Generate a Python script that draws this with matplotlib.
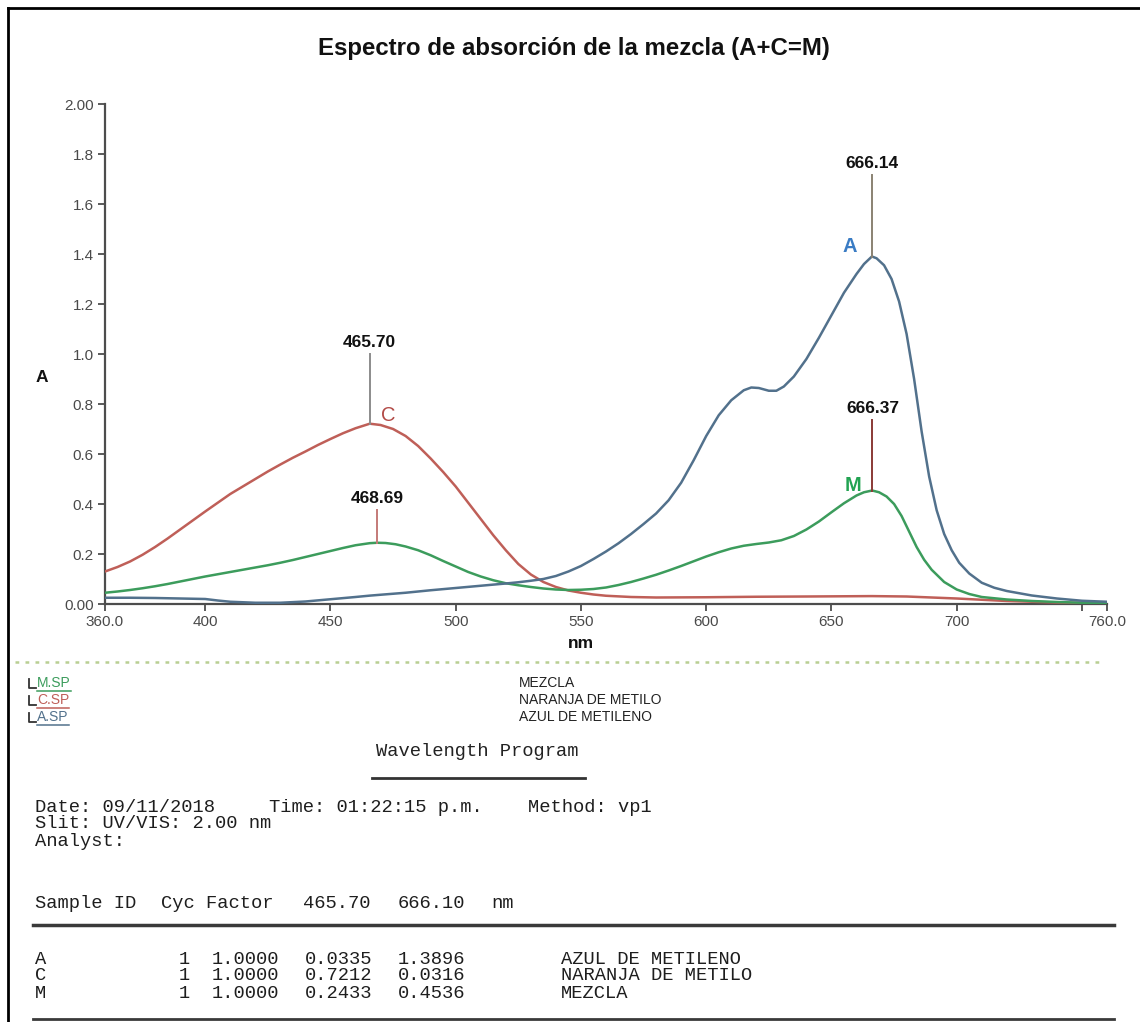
import numpy as np
import matplotlib
matplotlib.use("Agg")
import matplotlib.pyplot as plt
from matplotlib import font_manager
from matplotlib.lines import Line2D
from matplotlib.transforms import IdentityTransform

# ---------------- spectra (nm, absorbance) ----------------
wl_C = [360, 365, 370, 375, 380, 385, 390, 395, 400, 405, 410, 415, 420, 425, 430,
        435, 440, 445, 450, 455, 460, 465.70, 470, 475, 480, 485, 490, 495, 500,
        505, 510, 515, 520, 525, 530, 535, 540, 545, 550, 555, 560, 570, 580, 600,
        620, 640, 666.10, 680, 700, 720, 740, 760]
abs_C = [0.13, 0.148, 0.17, 0.197, 0.228, 0.262, 0.298, 0.334, 0.37, 0.405, 0.44,
         0.47, 0.50, 0.53, 0.558, 0.585, 0.61, 0.636, 0.66, 0.683, 0.703, 0.7212,
         0.716, 0.70, 0.672, 0.632, 0.582, 0.528, 0.47, 0.405, 0.34, 0.275, 0.215,
         0.16, 0.118, 0.088, 0.068, 0.054, 0.045, 0.038, 0.033, 0.028, 0.026, 0.027,
         0.029, 0.03, 0.0316, 0.03, 0.022, 0.012, 0.006, 0.003]

wl_A = [360, 370, 380, 390, 400, 405, 410, 420, 430, 440, 450, 460, 465.70, 470, 480,
        490, 500, 510, 520, 525, 530, 535, 540, 545, 550, 555, 560, 565, 570, 575,
        580, 585, 590, 595, 600, 605, 610, 615, 618, 621, 625, 628, 631, 635, 640,
        645, 650, 655, 660, 663, 666.10, 666.14, 668, 671, 674, 677, 680, 683, 686,
        689, 692, 695, 698, 701, 705, 710, 715, 720, 730, 740, 750, 760]
abs_A = [0.025, 0.025, 0.024, 0.022, 0.02, 0.014, 0.009, 0.005, 0.005, 0.01, 0.019,
         0.028, 0.0335, 0.037, 0.045, 0.055, 0.064, 0.073, 0.082, 0.087, 0.093, 0.1,
         0.112, 0.13, 0.152, 0.18, 0.21, 0.243, 0.28, 0.32, 0.362, 0.415, 0.485,
         0.575, 0.672, 0.755, 0.815, 0.855, 0.866, 0.864, 0.853, 0.853, 0.87, 0.91,
         0.98, 1.065, 1.155, 1.245, 1.32, 1.36, 1.3896, 1.39, 1.383, 1.355, 1.30,
         1.21, 1.08, 0.90, 0.69, 0.51, 0.375, 0.28, 0.215, 0.165, 0.122, 0.085,
         0.065, 0.052, 0.034, 0.022, 0.013, 0.009]

wl_M = [360, 365, 370, 375, 380, 385, 390, 395, 400, 405, 410, 415, 420, 425, 430,
        435, 440, 445, 450, 455, 460, 465.70, 468.69, 472, 476, 480, 485, 490, 495,
        500, 505, 510, 515, 520, 525, 530, 535, 540, 545, 550, 555, 560, 565, 570,
        575, 580, 585, 590, 595, 600, 605, 610, 615, 620, 625, 630, 635, 640, 645,
        650, 655, 660, 663, 666.10, 666.37, 669, 672, 675, 678, 681, 684, 687, 690,
        695, 700, 705, 710, 720, 730, 740, 750, 760]
abs_M = [0.045, 0.05, 0.056, 0.063, 0.071, 0.08, 0.09, 0.10, 0.11, 0.119, 0.128,
         0.137, 0.146, 0.155, 0.165, 0.176, 0.188, 0.20, 0.212, 0.224, 0.235,
         0.2433, 0.245, 0.244, 0.239, 0.23, 0.215, 0.195, 0.172, 0.15, 0.128, 0.11,
         0.095, 0.083, 0.075, 0.068, 0.062, 0.058, 0.056, 0.057, 0.06, 0.066, 0.076,
         0.088, 0.102, 0.117, 0.134, 0.152, 0.171, 0.19, 0.207, 0.222, 0.233, 0.24,
         0.246, 0.255, 0.272, 0.298, 0.33, 0.367, 0.403, 0.434, 0.447, 0.4536,
         0.4537, 0.447, 0.43, 0.40, 0.352, 0.29, 0.228, 0.177, 0.137, 0.088, 0.058,
         0.04, 0.028, 0.018, 0.012, 0.008, 0.005, 0.004]

# peak markers: (series, wavelength, text)
peak_series = ["C", "M", "A", "M"]
peak_nm = [465.70, 468.69, 666.14, 666.37]
peak_text = ["465.70", "468.69", "666.14", "666.37"]

# axis ticks
x_ticks = [360, 400, 450, 500, 550, 600, 650, 700, 750, 760]
x_ticklabels = ["360.0", "400", "450", "500", "550", "600", "650", "700", "", "760.0"]
y_ticks = [0.0, 0.2, 0.4, 0.6, 0.8, 1.0, 1.2, 1.4, 1.6, 1.8, 2.0]
y_ticklabels = ["0.00", "0.2", "0.4", "0.6", "0.8", "1.0", "1.2", "1.4", "1.6", "1.8", "2.00"]

# legend files and report table
files = ["M.SP", "C.SP", "A.SP"]
file_desc = ["MEZCLA", "NARANJA DE METILO", "AZUL DE METILENO"]
sample_ids = ["A", "C", "M"]
cyc = ["1", "1", "1"]
factor = ["1.0000", "1.0000", "1.0000"]
abs_465 = [0.0335, 0.7212, 0.2433]
abs_666 = [1.3896, 0.0316, 0.4536]
sample_names = ["AZUL DE METILENO", "NARANJA DE METILO", "MEZCLA"]

# ---------------- styling ----------------
def pick(names):
    for n in names:
        try:
            font_manager.findfont(font_manager.FontProperties(family=n),
                                  fallback_to_default=False)
            return n
        except Exception:
            continue
    return "DejaVu Sans"

SANS = pick(["Liberation Sans", "Arial", "DejaVu Sans"])
NARROW = pick(["Liberation Sans Narrow", "Liberation Sans"])
MONO = pick(["Liberation Mono", "DejaVu Sans Mono"])

col = {"C": "#bf5f58", "M": "#3c9c5c", "A": "#52718c"}
line_col = {"465.70": "#8c8c8c", "468.69": "#c47a78",
            "666.14": "#8a8272", "666.37": "#8a3a36"}
data = {"C": (wl_C, abs_C), "M": (wl_M, abs_M), "A": (wl_A, abs_A)}

W, H = 1140, 1022
fig = plt.figure(figsize=(W / 100, H / 100), dpi=100)
fig.patch.set_facecolor("white")


def fx(x):
    return x / W


def fy(y):
    return 1 - y / H


ax = fig.add_axes([fx(105), fy(604), (1107 - 105) / W, 500 / H])
ax.set_xlim(360, 760)
ax.set_ylim(0, 2.0)
for s in ["top", "right"]:
    ax.spines[s].set_visible(False)
for s in ["left", "bottom"]:
    ax.spines[s].set_color("#4d4d4d")
    ax.spines[s].set_linewidth(1.6)

ax.set_xticks(x_ticks)
ax.set_xticklabels(x_ticklabels)
ax.set_yticks(y_ticks)
ax.set_yticklabels(y_ticklabels)
ax.tick_params(axis="both", direction="out", length=5, width=1.3, color="#4d4d4d",
               labelcolor="#4a4a4a", labelsize=11)
ax.tick_params(axis="x", pad=3)
ax.tick_params(axis="y", pad=3)
for lab in ax.get_xticklabels() + ax.get_yticklabels():
    lab.set_family(NARROW)

# curves
for key in ["C", "M", "A"]:
    wl, ab = data[key]
    ax.plot(wl, ab, color=col[key], lw=1.8, solid_joinstyle="round",
            solid_capstyle="round", zorder=3)

# peak markers
line_top = {"465.70": 1.0, "468.69": 0.376, "666.14": 1.716, "666.37": 0.736}
for key, nm, txt in zip(peak_series, peak_nm, peak_text):
    wl, ab = data[key]
    yv = float(np.interp(nm, wl, ab))
    top = line_top[txt]
    ax.plot([nm, nm], [yv, top], color=line_col[txt], lw=1.4, zorder=4)
    ax.text(nm, top + 0.015, txt, ha="center", va="bottom", fontsize=12.5,
            fontweight="bold", family=SANS, color="#111111")

# series letters
ax.text(473, 0.755, "C", color="#b24a46", fontsize=14.5, family=SANS,
        ha="center", va="center")
ax.text(657.5, 1.43, "A", color="#3a7cc4", fontsize=14.5, family=SANS,
        fontweight="bold", ha="center", va="center")
ax.text(658.5, 0.475, "M", color="#22a352", fontsize=14.5, family=SANS,
        fontweight="bold", ha="center", va="center")

# axis titles
fig.text(fx(42), fy(378), "A", fontsize=12.5, fontweight="bold", family=SANS,
         ha="center", va="center", color="#111111")
fig.text(fx(581), fy(644), "nm", fontsize=12.5, fontweight="bold", family=SANS,
         ha="center", va="center", color="#111111")

# chart title
fig.text(fx(574), fy(48), "Espectro de absorción de la mezcla (A+C=M)",
         fontsize=17.3, fontweight="bold", family=SANS, ha="center", va="center",
         color="#111111")

# page frame
fig.add_artist(Line2D([fx(8), fx(8)], [fy(8), fy(1022)], color="black", lw=2,
                      transform=fig.transFigure))
fig.add_artist(Line2D([fx(8), fx(1140)], [fy(8), fy(8)], color="black", lw=2,
                      transform=fig.transFigure))

# dotted separator under the plot
fig.add_artist(Line2D([fx(15), fx(1100)], [fy(662), fy(662)], color="#b9cf92",
                      lw=1.8, ls=(0, (1.5, 2.5)), transform=fig.transFigure))

# file legend
renderer = fig.canvas.get_renderer()
leg_y = [683, 700, 717]
for fname, desc, key, yy in zip(files, file_desc, ["M", "C", "A"], leg_y):
    # small file icon
    fig.add_artist(Line2D([fx(29), fx(29), fx(36)], [fy(yy - 4), fy(yy + 5), fy(yy + 5)],
                          color="#333333", lw=1.3, transform=fig.transFigure))
    t = fig.text(fx(37), fy(yy), fname, fontsize=10, family=NARROW, color=col[key],
                 ha="left", va="center")
    bb = t.get_window_extent(renderer=renderer)
    fig.add_artist(Line2D([bb.x0, bb.x1], [bb.y0 - 1, bb.y0 - 1], color=col[key],
                          lw=1.1, transform=IdentityTransform()))
    fig.text(fx(519), fy(yy), desc, fontsize=10, family=NARROW, color="#222222",
             ha="left", va="center")

# report block
fig.text(fx(477), fy(752), "Wavelength Program", fontsize=13.5, family=MONO,
         ha="center", va="center", color="#222222")
fig.add_artist(Line2D([fx(372), fx(585)], [fy(778), fy(778)], color="#333333",
                      lw=2, transform=fig.transFigure))

mono_kw = dict(fontsize=13.5, family=MONO, color="#1e1e1e", va="center", ha="left")
fig.text(fx(35), fy(807), "Date: 09/11/2018", **mono_kw)
fig.text(fx(269), fy(807), "Time: 01:22:15 p.m.", **mono_kw)
fig.text(fx(528), fy(807), "Method: vp1", **mono_kw)
fig.text(fx(35), fy(824), "Slit: UV/VIS: 2.00 nm", **mono_kw)
fig.text(fx(35), fy(841), "Analyst:", **mono_kw)

fig.text(fx(35), fy(903), "Sample ID", **mono_kw)
fig.text(fx(161), fy(903), "Cyc Factor", **mono_kw)
fig.text(fx(303), fy(903), "%.2f" % 465.70, **mono_kw)
fig.text(fx(398), fy(903), "%.2f" % 666.10, **mono_kw)
fig.text(fx(491), fy(903), "nm", **mono_kw)
fig.add_artist(Line2D([fx(33), fx(1114)], [fy(925), fy(925)], color="#3a3a3a",
                      lw=2.5, transform=fig.transFigure))

row_y = [959, 976, 993]
for sid, c, f, a1, a2, nmz, yy in zip(sample_ids, cyc, factor, abs_465, abs_666,
                                      sample_names, row_y):
    fig.text(fx(35), fy(yy), sid, **mono_kw)
    fig.text(fx(179), fy(yy), c, **mono_kw)
    fig.text(fx(212), fy(yy), f, **mono_kw)
    fig.text(fx(305), fy(yy), "%.4f" % a1, **mono_kw)
    fig.text(fx(398), fy(yy), "%.4f" % a2, **mono_kw)
    fig.text(fx(561), fy(yy), nmz, **mono_kw)
fig.add_artist(Line2D([fx(33), fx(1114)], [fy(1019), fy(1019)], color="#3a3a3a",
                      lw=2, transform=fig.transFigure))

fig.savefig("out.png", dpi=100, facecolor="white")
